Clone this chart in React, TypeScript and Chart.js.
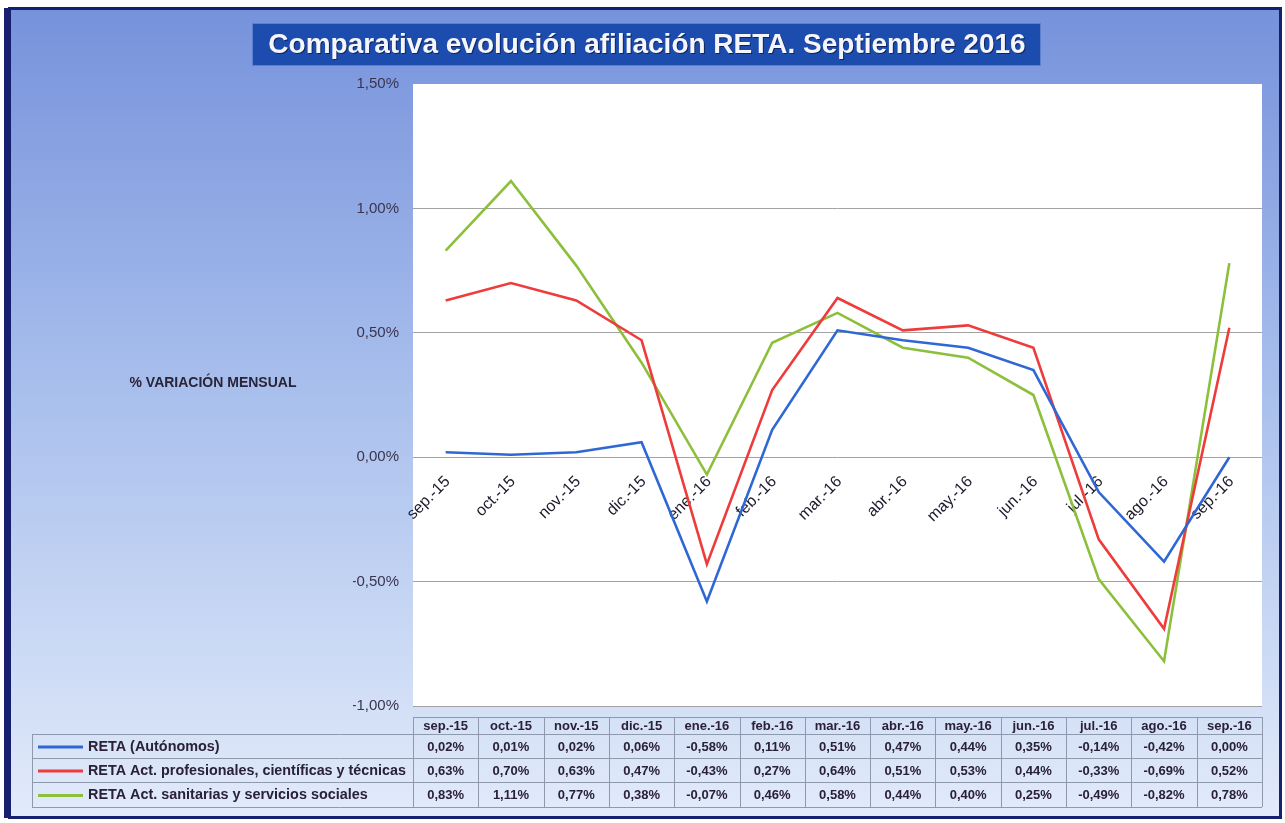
import React, { useEffect, useRef } from "react";
import { Chart, registerables } from "chart.js";

Chart.register(...registerables);

const title = "Comparativa evolución afiliación RETA. Septiembre 2016";
const yAxisTitle = "% VARIACIÓN MENSUAL";
const categories = ["sep.-15", "oct.-15", "nov.-15", "dic.-15", "ene.-16", "feb.-16", "mar.-16", "abr.-16", "may.-16", "jun.-16", "jul.-16", "ago.-16", "sep.-16"];
const seriesNames = [
  "RETA (Autónomos)",
  "RETA Act. profesionales, científicas y técnicas",
  "RETA Act. sanitarias y servicios sociales",
];
const retaAutonomos = [0.02, 0.01, 0.02, 0.06, -0.58, 0.11, 0.51, 0.47, 0.44, 0.35, -0.14, -0.42, 0.0];
const retaProfesionales = [0.63, 0.7, 0.63, 0.47, -0.43, 0.27, 0.64, 0.51, 0.53, 0.44, -0.33, -0.69, 0.52];
const retaSanitarias = [0.83, 1.11, 0.77, 0.38, -0.07, 0.46, 0.58, 0.44, 0.4, 0.25, -0.49, -0.82, 0.78];
const seriesColors = ["#2f68d4", "#ee3b3b", "#8cc03c"];
const yMin = -1;
const yMax = 1.5;
const yStep = 0.5;

const FONT = "'Liberation Sans', Arial, sans-serif";
const fmt = (v: number) => v.toFixed(2).replace(".", ",") + "%";

const decorPlugin = {
  id: "decor",
  beforeDraw(chart: any) {
    const ctx = chart.ctx;
    const W = chart.width;
    const H = chart.height;
    ctx.save();
    ctx.fillStyle = "#ffffff";
    ctx.fillRect(0, 0, W, H);
    const g = ctx.createLinearGradient(0, 8, 0, 818);
    g.addColorStop(0, "#7692db");
    g.addColorStop(0.45, "#a6bdec");
    g.addColorStop(1, "#e2ebfa");
    ctx.fillStyle = g;
    ctx.fillRect(9, 8, 1272, 810);
    ctx.strokeStyle = "#16206e";
    ctx.lineWidth = 3;
    ctx.strokeRect(9.5, 8.5, 1271, 809);
    ctx.fillStyle = "#16206e";
    ctx.fillRect(4, 8, 7, 810);
    // title box
    ctx.fillStyle = "#1c4cae";
    ctx.fillRect(252, 23, 789, 43);
    ctx.strokeStyle = "#5d7fd0";
    ctx.lineWidth = 1;
    ctx.strokeRect(252.5, 23.5, 788, 42);
    ctx.font = `bold 28px ${FONT}`;
    ctx.textAlign = "center";
    ctx.textBaseline = "middle";
    ctx.fillStyle = "rgba(10,20,60,0.7)";
    ctx.fillText(title, 648, 46.5, 772);
    ctx.fillStyle = "#f4f6fb";
    ctx.fillText(title, 647, 45, 772);
    // y axis title
    ctx.font = `bold 14px ${FONT}`;
    ctx.fillStyle = "#2a2438";
    ctx.fillText(yAxisTitle, 213, 383);
    // plot area
    const a = chart.chartArea;
    ctx.fillStyle = "#ffffff";
    ctx.fillRect(a.left, a.top, a.right - a.left, a.bottom - a.top);
    ctx.restore();
  },
  beforeDatasetsDraw(chart: any) {
    const ctx = chart.ctx;
    const xs = chart.scales.x;
    const ys = chart.scales.y;
    const zy = ys.getPixelForValue(0);
    ctx.save();
    ctx.font = `16px ${FONT}`;
    ctx.fillStyle = "#1c1a2c";
    ctx.textAlign = "right";
    ctx.textBaseline = "middle";
    categories.forEach((c, i) => {
      const x = xs.getPixelForValue(i);
      ctx.save();
      ctx.translate(x + 2, zy + 22);
      ctx.rotate(-Math.PI / 4);
      ctx.fillText(c, 0, 0);
      ctx.restore();
    });
    ctx.restore();
  },
  afterDraw(chart: any) {
    const ctx = chart.ctx;
    const xs = chart.scales.x;
    const a = chart.chartArea;
    const colW = (a.right - a.left) / categories.length;
    const tableLeft = 32;
    const rowsY = [717, 734, 758, 782, 807];
    const seriesData = [retaAutonomos, retaProfesionales, retaSanitarias];
    ctx.save();
    ctx.strokeStyle = "#8f99ad";
    ctx.lineWidth = 1;
    ctx.beginPath();
    ctx.moveTo(a.left, rowsY[0] + 0.5);
    ctx.lineTo(a.right, rowsY[0] + 0.5);
    for (let r = 1; r < rowsY.length; r++) {
      ctx.moveTo(tableLeft, rowsY[r] + 0.5);
      ctx.lineTo(a.right, rowsY[r] + 0.5);
    }
    for (let k = 0; k <= categories.length; k++) {
      const x = Math.round(a.left + k * colW) + 0.5;
      ctx.moveTo(x, rowsY[0]);
      ctx.lineTo(x, rowsY[4]);
    }
    ctx.moveTo(tableLeft + 0.5, rowsY[1]);
    ctx.lineTo(tableLeft + 0.5, rowsY[4]);
    ctx.stroke();

    ctx.textBaseline = "middle";
    ctx.textAlign = "center";
    ctx.fillStyle = "#2a2038";
    ctx.font = `bold 13px ${FONT}`;
    categories.forEach((c, i) => {
      const x = xs.getPixelForValue(i);
      ctx.fillText(c, x, (rowsY[0] + rowsY[1]) / 2 + 1, colW - 8);
    });
    seriesData.forEach((arr, r) => {
      const cy = (rowsY[r + 1] + rowsY[r + 2]) / 2 + 1;
      arr.forEach((v, i) => {
        const x = xs.getPixelForValue(i);
        ctx.fillStyle = "#2a2038";
        ctx.font = `bold 13px ${FONT}`;
        ctx.textAlign = "center";
        ctx.fillText(fmt(v), x, cy, colW - 8);
      });
      ctx.strokeStyle = seriesColors[r];
      ctx.lineWidth = 3;
      ctx.beginPath();
      ctx.moveTo(38, cy);
      ctx.lineTo(83, cy);
      ctx.stroke();
      ctx.fillStyle = "#2a2038";
      ctx.font = `bold 14.4px ${FONT}`;
      ctx.textAlign = "left";
      ctx.fillText(seriesNames[r], 88, cy, 318);
    });
    ctx.restore();
  },
};

export default function App() {
  const ref = useRef<HTMLCanvasElement | null>(null);
  useEffect(() => {
    if (!ref.current) return;
    const chart = new Chart(ref.current, {
      type: "line",
      data: {
        labels: categories,
        datasets: [
          { label: seriesNames[0], data: retaAutonomos, borderColor: seriesColors[0], borderWidth: 2.6 },
          { label: seriesNames[1], data: retaProfesionales, borderColor: seriesColors[1], borderWidth: 2.6 },
          { label: seriesNames[2], data: retaSanitarias, borderColor: seriesColors[2], borderWidth: 2.6 },
        ].map((d) => ({ ...d, pointRadius: 0, tension: 0, fill: false })),
      },
      options: {
        animation: false,
        responsive: false,
        maintainAspectRatio: false,
        layout: { padding: { left: 353, right: 23, top: 84, bottom: 117 } },
        plugins: { legend: { display: false }, tooltip: { enabled: false }, title: { display: false } },
        scales: {
          x: { type: "category", offset: true, display: false, grid: { display: false } },
          y: {
            min: yMin,
            max: yMax,
            afterFit: (s: any) => {
              s.width = 60;
            },
            border: { display: false },
            grid: {
              drawTicks: false,
              color: (c: any) => (c.tick && c.tick.value === yMax ? "rgba(0,0,0,0)" : "#a3a3a3"),
              lineWidth: 1,
            },
            ticks: {
              stepSize: yStep,
              padding: 14,
              color: "#3b3450",
              font: { family: FONT, size: 15 },
              callback: (v: any) => fmt(Number(v)),
            },
          },
        },
      },
      plugins: [decorPlugin],
    });
    return () => chart.destroy();
  }, []);
  return (
    <div style={{ position: "absolute", left: 0, top: 0, width: 1285, height: 823 }}>
      <canvas ref={ref} width={1285} height={823} style={{ width: 1285, height: 823, display: "block" }} />
    </div>
  );
}
